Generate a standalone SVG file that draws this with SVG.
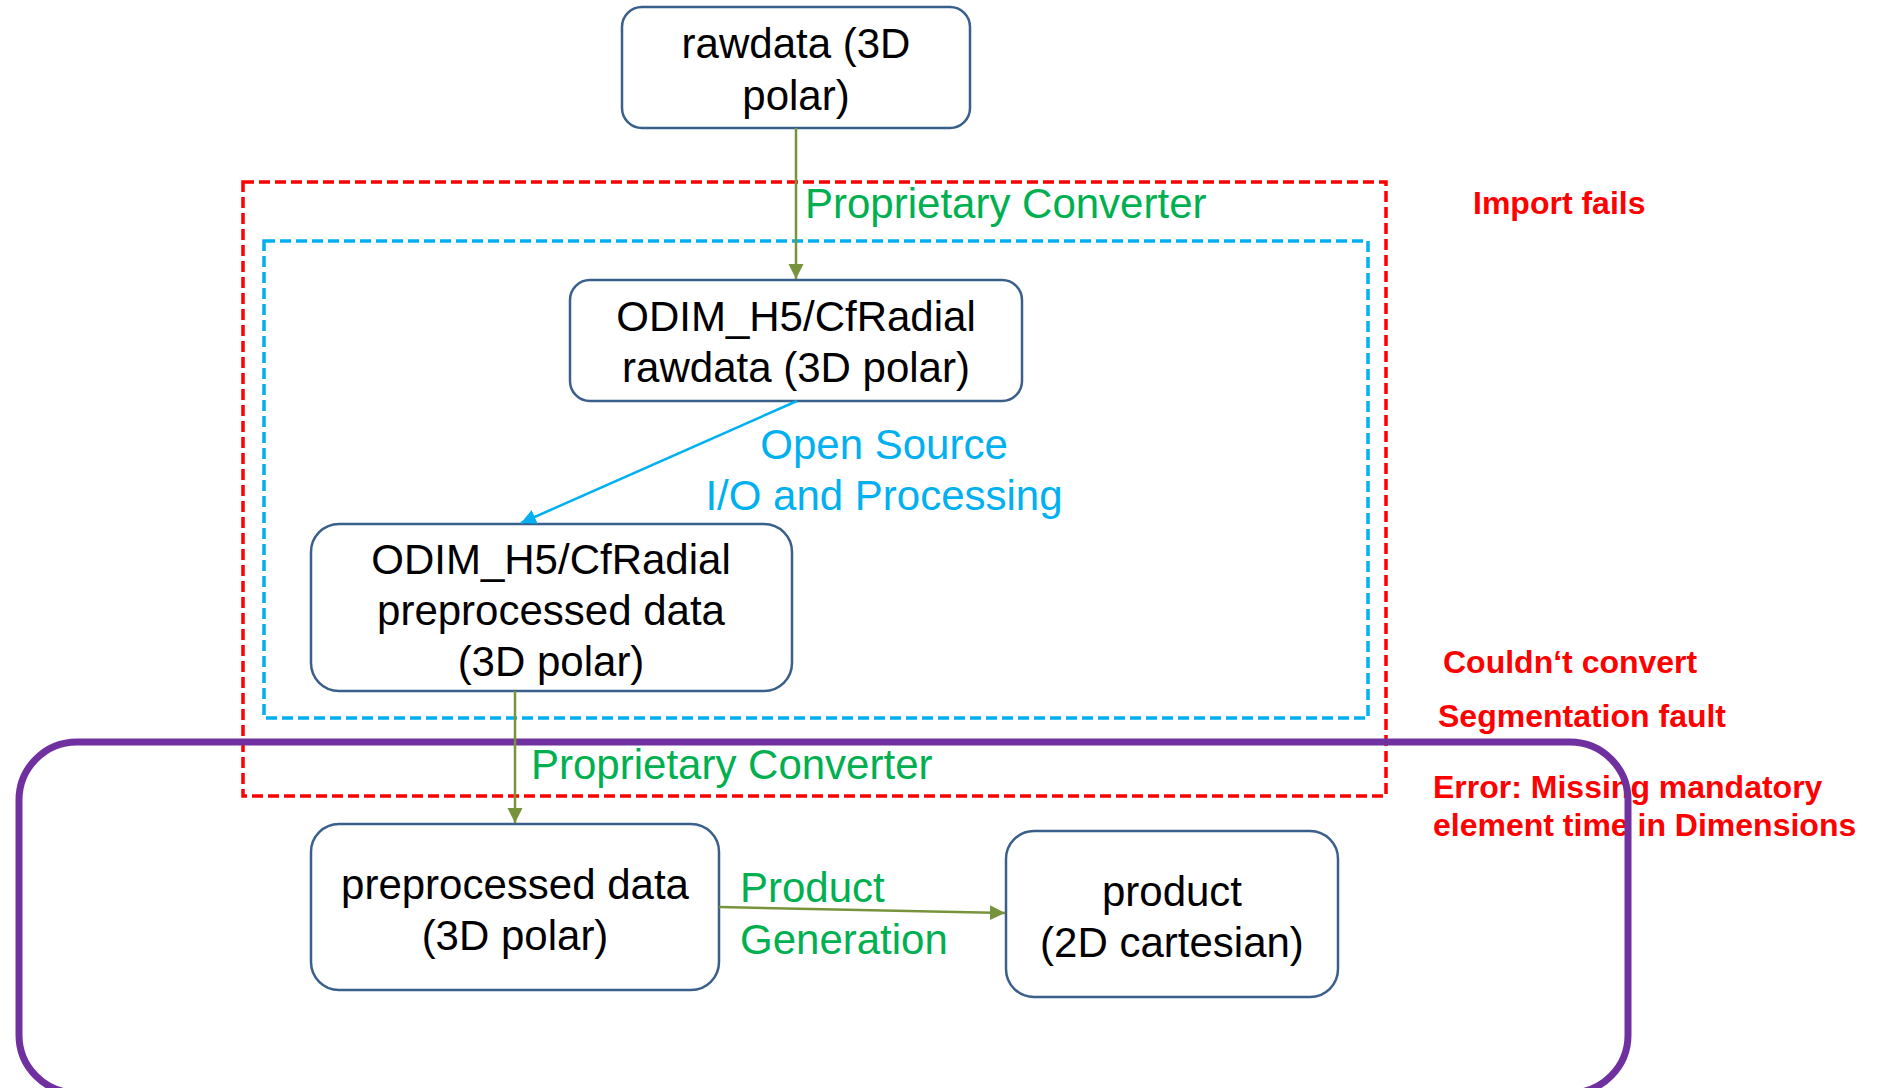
<svg xmlns="http://www.w3.org/2000/svg" width="1877" height="1088" viewBox="0 0 1877 1088">
  <style>
    text { font-family: "Liberation Sans", Arial, sans-serif; }
    .node rect { fill: #ffffff; stroke: #3a5f8b; stroke-width: 2.5; }
    .node text { font-size: 42px; fill: #000000; text-anchor: middle; }
    .lbl-green { font-size: 42px; fill: #00b050; }
    .lbl-blue { font-size: 42px; fill: #00b0f0; text-anchor: middle; }
    .err { font-size: 32px; font-weight: bold; fill: #ff0000; }
    .zone-red { fill: none; stroke: #ff0000; stroke-width: 3.5; stroke-dasharray: 11 5; }
    .zone-blue { fill: none; stroke: #00b0f0; stroke-width: 3.5; stroke-dasharray: 11 5; }
    .zone-purple { fill: none; stroke: #7030a0; stroke-width: 7; }
    .conn-green { stroke: #77933c; stroke-width: 2.5; fill: none; marker-end: url(#arrowGreen); }
    .conn-blue { stroke: #00b0f0; stroke-width: 2.5; fill: none; marker-end: url(#arrowBlue); }
  </style>
  <defs>
    <marker id="arrowGreen" markerUnits="userSpaceOnUse" markerWidth="16" markerHeight="16" refX="15" refY="7.5" orient="auto">
      <path d="M0,0 L15,7.5 L0,15 z" fill="#77933c"/>
    </marker>
    <marker id="arrowBlue" markerUnits="userSpaceOnUse" markerWidth="16" markerHeight="16" refX="15" refY="7.5" orient="auto">
      <path d="M0,0 L15,7.5 L0,15 z" fill="#00b0f0"/>
    </marker>
  </defs>

  <rect width="1877" height="1088" fill="#ffffff"/>

  <!-- dashed zones -->
  <g id="zones">
    <rect class="zone-red" x="243" y="182" width="1143" height="614"/>
    <rect class="zone-blue" x="264" y="241" width="1104" height="477"/>
  </g>

  <!-- error messages -->
  <g id="errors">
    <text class="err" x="1473" y="214">Import fails</text>
    <text class="err" x="1443" y="673">Couldn‘t convert</text>
    <text class="err" x="1438" y="727">Segmentation fault</text>
    <text class="err" x="1433" y="798">Error: Missing mandatory</text>
    <text class="err" x="1433" y="836">element time in Dimensions</text>
  </g>

  <!-- purple container -->
  <g id="container">
    <rect class="zone-purple" x="19" y="742" width="1609" height="351" rx="58" ry="58"/>
  </g>

  <!-- nodes -->
  <g id="node-rawdata" class="node">
    <rect x="622" y="7" width="348" height="121" rx="20" ry="20"/>
    <text x="796" y="58">rawdata (3D</text>
    <text x="796" y="110">polar)</text>
  </g>
  <g id="node-odim-raw" class="node">
    <rect x="570" y="280" width="452" height="121" rx="20" ry="20"/>
    <text x="796" y="331">ODIM_H5/CfRadial</text>
    <text x="796" y="382">rawdata (3D polar)</text>
  </g>
  <g id="node-odim-pre" class="node">
    <rect x="311" y="524" width="481" height="167" rx="28" ry="28"/>
    <text x="551" y="574">ODIM_H5/CfRadial</text>
    <text x="551" y="625">preprocessed data</text>
    <text x="551" y="676">(3D polar)</text>
  </g>
  <g id="node-pre" class="node">
    <rect x="311" y="824" width="408" height="166" rx="28" ry="28"/>
    <text x="515" y="899">preprocessed data</text>
    <text x="515" y="950">(3D polar)</text>
  </g>
  <g id="node-product" class="node">
    <rect x="1006" y="831" width="332" height="166" rx="28" ry="28"/>
    <text x="1172" y="906">product</text>
    <text x="1172" y="957">(2D cartesian)</text>
  </g>

  <!-- connectors -->
  <g id="connectors">
    <line class="conn-green" x1="796" y1="128" x2="796" y2="279"/>
    <line class="conn-blue" x1="797" y1="401" x2="521" y2="523"/>
    <line class="conn-green" x1="515" y1="691" x2="515" y2="823"/>
    <line class="conn-green" x1="719" y1="907" x2="1005" y2="913"/>
  </g>

  <!-- connector labels -->
  <g id="labels">
    <text class="lbl-green" x="805" y="218">Proprietary Converter</text>
    <text class="lbl-blue" x="884" y="459">Open Source</text>
    <text class="lbl-blue" x="884" y="510">I/O and Processing</text>
    <text class="lbl-green" x="531" y="779">Proprietary Converter</text>
    <text class="lbl-green" x="740" y="902">Product</text>
    <text class="lbl-green" x="740" y="954">Generation</text>
  </g>
</svg>
